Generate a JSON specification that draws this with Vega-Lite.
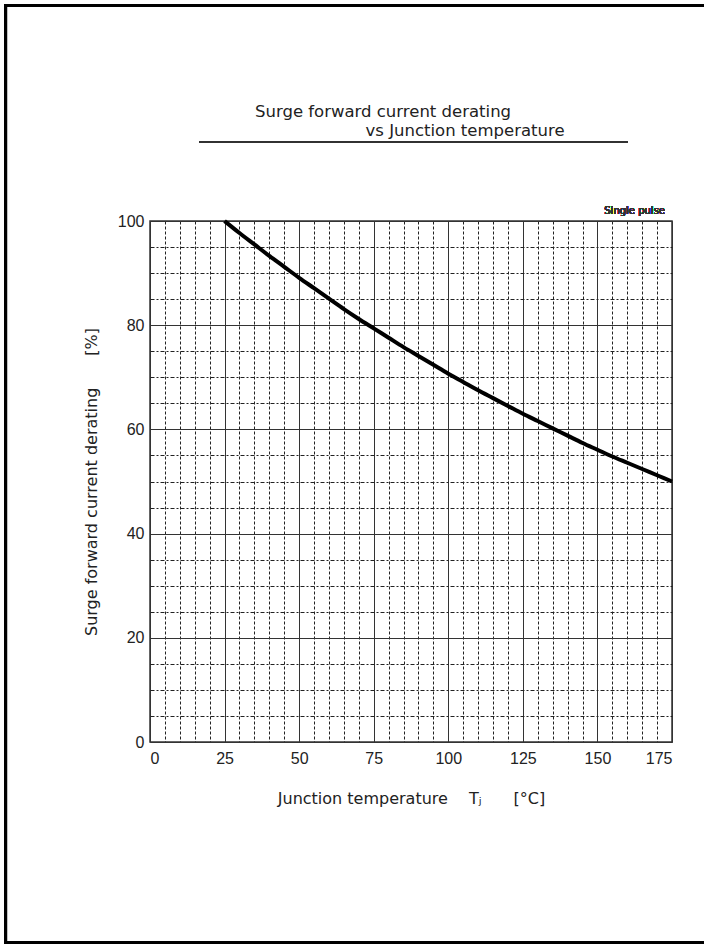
{
  "$schema": "https://vega.github.io/schema/vega-lite/v6.json",
  "width": 522,
  "height": 521,
  "autosize": {"type": "none"},
  "padding": {"left": 150, "top": 221, "right": 32, "bottom": 202},
  "background": "white",
  "config": {
    "view": {"stroke": "#333", "strokeWidth": 1.5},
    "font": "DejaVu Sans"
  },
  "title": {
    "text": ["Surge forward current derating", "\u200b\u2003\u2003\u2003\u2003\u2003\u2003\u2002\u2009vs Junction temperature"],
    "anchor": "start",
    "frame": "group",
    "dx": 105,
    "offset": -135,
    "font": "DejaVu Sans",
    "fontSize": 16.5,
    "fontWeight": "normal",
    "lineHeight": 18.5,
    "color": "#222"
  },
  "resolve": {"axis": {"x": "independent", "y": "independent"}},
  "data": {
    "values": [
      {"t": 25, "v": 100},
      {"t": 30, "v": 97.7},
      {"t": 35, "v": 95.5},
      {"t": 40, "v": 93.3},
      {"t": 45, "v": 91.2},
      {"t": 50, "v": 89.1},
      {"t": 55, "v": 87.1},
      {"t": 60, "v": 85.1},
      {"t": 65, "v": 83.1},
      {"t": 70, "v": 81.2},
      {"t": 75, "v": 79.4},
      {"t": 80, "v": 77.6},
      {"t": 85, "v": 75.8},
      {"t": 90, "v": 74.1},
      {"t": 95, "v": 72.4},
      {"t": 100, "v": 70.7},
      {"t": 105, "v": 69.1},
      {"t": 110, "v": 67.5},
      {"t": 115, "v": 66.0},
      {"t": 120, "v": 64.5},
      {"t": 125, "v": 63.0},
      {"t": 130, "v": 61.6},
      {"t": 135, "v": 60.2},
      {"t": 140, "v": 58.8},
      {"t": 145, "v": 57.4},
      {"t": 150, "v": 56.1},
      {"t": 155, "v": 54.8},
      {"t": 160, "v": 53.6},
      {"t": 165, "v": 52.4},
      {"t": 170, "v": 51.2},
      {"t": 175, "v": 50.0}
    ]
  },
  "layer": [
    {
      "mark": {"type": "line", "strokeOpacity": 0},
      "encoding": {
        "x": {
          "field": "t", "type": "quantitative",
          "scale": {"domain": [0, 175], "nice": false, "zero": false},
          "axis": {
            "orient": "bottom",
            "values": [5, 10, 15, 20, 30, 35, 40, 45, 55, 60, 65, 70, 80, 85, 90, 95, 105, 110, 115, 120, 130, 135, 140, 145, 155, 160, 165, 170],
            "grid": true, "gridColor": "#222", "gridDash": [3, 2], "gridWidth": 1, "gridOpacity": 1,
            "labels": false, "ticks": false, "domain": false, "title": null
          }
        },
        "y": {
          "field": "v", "type": "quantitative",
          "scale": {"domain": [0, 100], "nice": false, "zero": false},
          "axis": {
            "orient": "left",
            "values": [5, 10, 15, 25, 30, 35, 45, 50, 55, 65, 70, 75, 85, 90, 95],
            "grid": true, "gridColor": "#222", "gridDash": [4, 2, 2, 2], "gridWidth": 1, "gridOpacity": 1,
            "labels": false, "ticks": false, "domain": false, "title": null
          }
        }
      }
    },
    {
      "mark": {"type": "line", "color": "black", "strokeWidth": 4, "interpolate": "monotone"},
      "encoding": {
        "x": {
          "field": "t", "type": "quantitative",
          "scale": {"domain": [0, 175], "nice": false, "zero": false},
          "axis": {
            "orient": "bottom",
            "values": [0, 25, 50, 75, 100, 125, 150, 175],
            "grid": true, "gridColor": "#333", "gridWidth": 1, "gridOpacity": 1,
            "ticks": false, "domain": false,
            "labelFont": "Liberation Sans", "labelFontSize": 16, "labelColor": "#222", "labelPadding": 8,
            "title": "Junction temperature\u2003 T\u2c7c\u2003\u2003[\u00b0C]",
            "titleFont": "DejaVu Sans", "titleFontSize": 16, "titleFontWeight": "normal", "titleColor": "#222",
            "titlePadding": 24
          }
        },
        "y": {
          "field": "v", "type": "quantitative",
          "scale": {"domain": [0, 100], "nice": false, "zero": false},
          "axis": {
            "orient": "left",
            "values": [0, 20, 40, 60, 80, 100],
            "grid": true, "gridColor": "#333", "gridWidth": 1, "gridOpacity": 1,
            "ticks": false, "domain": false,
            "labelFont": "Liberation Sans", "labelFontSize": 16, "labelColor": "#222", "labelPadding": 6,
            "title": "Surge forward current derating\u2003\u2003[%]",
            "titleFont": "DejaVu Sans", "titleFontSize": 16, "titleFontWeight": "normal", "titleColor": "#222",
            "titlePadding": 18
          }
        }
      }
    },
    {
      "mark": {"type": "rect", "fill": "transparent", "stroke": "black", "strokeWidth": 3, "clip": false},
      "encoding": {
        "x": {"datum": -48.44, "type": "quantitative", "scale": {"domain": [0, 175], "nice": false, "zero": false}, "axis": null},
        "x2": {"datum": 187.7},
        "y": {"datum": 141.36, "type": "quantitative", "scale": {"domain": [0, 100], "nice": false, "zero": false}, "axis": null},
        "y2": {"datum": -38.58}
      }
    },
    {
      "mark": {"type": "rule", "stroke": "#333", "strokeWidth": 1, "clip": false},
      "encoding": {
        "x": {"datum": 16.43, "type": "quantitative", "scale": {"domain": [0, 175], "nice": false, "zero": false}, "axis": null},
        "x2": {"datum": 160.25},
        "y": {"datum": 115.16, "type": "quantitative", "scale": {"domain": [0, 100], "nice": false, "zero": false}, "axis": null}
      }
    },
    {
      "mark": {"type": "text", "text": "Single pulse", "font": "DejaVu Sans", "fontSize": 10, "color": "#333", "align": "right", "baseline": "alphabetic", "dx": -7, "dy": -7, "clip": false},
      "encoding": {
        "x": {"datum": 175, "type": "quantitative", "scale": {"domain": [0, 175], "nice": false, "zero": false}, "axis": null},
        "y": {"datum": 100, "type": "quantitative", "scale": {"domain": [0, 100], "nice": false, "zero": false}, "axis": null}
      }
    }
  ]
}
